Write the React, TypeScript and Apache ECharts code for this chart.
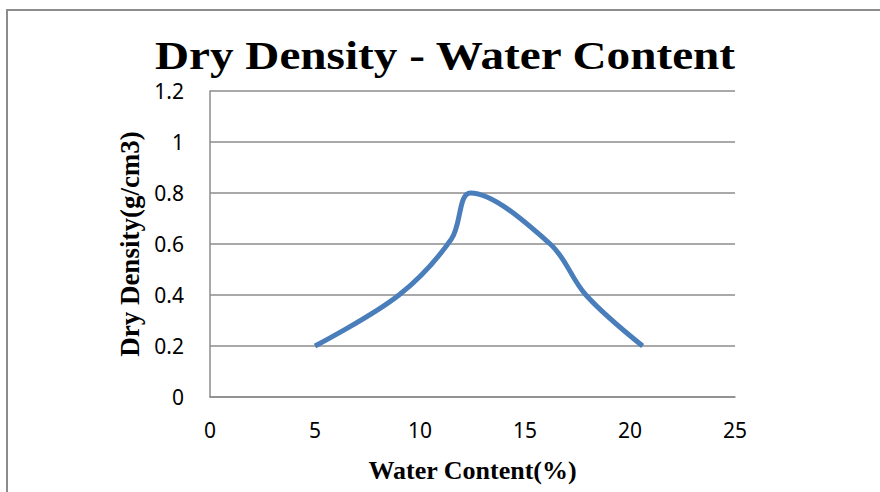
import React, { useEffect, useRef } from "react";
import * as echarts from "echarts";

const titleText = "Dry Density - Water Content";
const xAxisName = "Water Content(%)";
const yAxisName = "Dry Density(g/cm3)";
const waterContent = [5, 9, 11.5, 12.4, 16.2, 17.9, 20.6];
const dryDensity = [0.2, 0.4, 0.62, 0.8, 0.6, 0.4, 0.2];

export default function App() {
  const ref = useRef<HTMLDivElement>(null);
  useEffect(() => {
    if (!ref.current) return;
    const chart = echarts.init(ref.current, undefined, { renderer: "svg" });
    const gray = "#8c8c8c";
    chart.setOption({
      animation: false,
      backgroundColor: "#ffffff",
      graphic: [
        {
          type: "rect",
          shape: { x: 7, y: 10, width: 900, height: 520 },
          style: { fill: "none", stroke: gray, lineWidth: 2 },
          silent: true,
        },
        {
          type: "text",
          x: 445,
          y: 55,
          scaleX: 1.18,
          style: {
            text: titleText,
            x: 0,
            y: 0,
            align: "center",
            verticalAlign: "middle",
            font: "bold 40px 'Liberation Serif', 'Times New Roman', serif",
            fill: "#000000",
          },
        },
      ],
      grid: { left: 210, right: 145, top: 91, bottom: 95 },
      xAxis: {
        type: "value",
        min: 0,
        max: 25,
        interval: 5,
        name: xAxisName,
        nameLocation: "middle",
        nameGap: 60,
        nameTextStyle: {
          fontFamily: "'Liberation Serif', serif",
          fontWeight: "bold",
          fontSize: 26,
          color: "#000",
        },
        axisLine: { show: true, lineStyle: { color: gray, width: 1.5 } },
        axisTick: { show: false },
        splitLine: { show: false },
        axisLabel: {
          fontFamily: "'Noto Sans', sans-serif",
          fontSize: 21,
          color: "#000",
          margin: 22,
        },
      },
      yAxis: {
        type: "value",
        min: 0,
        max: 1.2,
        interval: 0.2,
        name: yAxisName,
        nameLocation: "middle",
        nameGap: 62,
        nameTextStyle: {
          fontFamily: "'Liberation Serif', serif",
          fontWeight: "bold",
          fontSize: 27,
          color: "#000",
        },
        axisLine: { show: true, lineStyle: { color: gray, width: 1.5 } },
        axisTick: { show: false },
        splitLine: { show: true, lineStyle: { color: gray, width: 1.5 } },
        axisLabel: {
          fontFamily: "'Noto Sans', sans-serif",
          fontSize: 21,
          color: "#000",
          margin: 26,
          formatter: (v: number) => String(Math.round(v * 10) / 10),
        },
      },
      series: [
        {
          type: "line",
          data: waterContent.map((x, i) => [x, dryDensity[i]]),
          smooth: 0.35,
          showSymbol: false,
          symbol: "none",
          lineStyle: { color: "#4a7ebb", width: 5 },
        },
      ],
    });
    return () => chart.dispose();
  }, []);
  return (
    <div
      ref={ref}
      style={{ position: "fixed", left: 0, top: 0, width: 880, height: 492 }}
    />
  );
}
